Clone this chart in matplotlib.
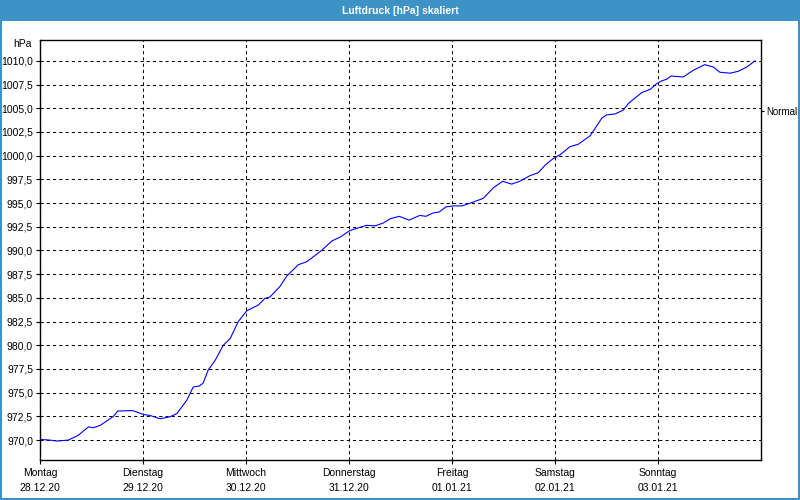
import matplotlib
matplotlib.use('Agg')
import matplotlib.pyplot as plt
from matplotlib.patches import Rectangle

# Luftdruck over one week, hours since Monday 00:00
hours = [0, 2.3, 3.9, 6.6, 8.9, 11.3, 12.4, 14.0, 15.5, 17.1, 18.1, 20.2, 21.7,
         24.1, 25.6, 28.0, 30.3, 31.9, 34.2, 35.7, 37.1, 38.0, 39.2, 40.8, 42.7,
         44.3, 46.2, 48.2, 50.9, 52.4, 53.6, 55.9, 57.5, 60.2, 62.1, 63.3, 65.6,
         68.0, 69.9, 72.2, 74.6, 76.1, 78.1, 80.0, 81.6, 83.7, 86.0, 88.5, 89.9,
         91.6, 93.0, 94.6, 96.3, 98.3, 100.9, 103.3, 105.6, 107.8, 109.9, 111.8,
         114.2, 116.1, 117.7, 119.6, 121.2, 123.5, 125.4, 128.2, 130.9, 132.0,
         134.0, 135.9, 137.1, 140.2, 142.2, 143.7, 144.9, 146.0, 147.0, 149.9,
         152.2, 154.9, 156.9, 158.4, 160.8, 162.7, 164.7, 166.6]
pressure = [970.07, 970.0, 969.9, 970.0, 970.5, 971.4, 971.3, 971.55, 972.0, 972.5,
            973.06, 973.1, 973.1, 972.7, 972.6, 972.25, 972.46, 972.8, 974.2,
            975.6, 975.7, 976.0, 977.4, 978.4, 980.0, 980.7, 982.5, 983.65, 984.25,
            984.95, 985.1, 986.2, 987.3, 988.5, 988.8, 989.2, 990.0, 991.0, 991.4,
            992.1, 992.45, 992.65, 992.6, 992.9, 993.35, 993.6, 993.2, 993.7, 993.6,
            993.96, 994.06, 994.6, 994.7, 994.7, 995.1, 995.5, 996.6, 997.3, 997.0,
            997.3, 997.9, 998.2, 999.0, 999.7, 1000.1, 1000.95, 1001.2, 1002.1,
            1003.95, 1004.3, 1004.4, 1004.8, 1005.5, 1006.65, 1007.0, 1007.6,
            1007.9, 1008.05, 1008.4, 1008.3, 1009.0, 1009.6, 1009.35, 1008.8,
            1008.7, 1008.9, 1009.35, 1010.0]

day_names = ['Montag', 'Dienstag', 'Mittwoch', 'Donnerstag', 'Freitag', 'Samstag', 'Sonntag']
day_dates = ['28.12.20', '29.12.20', '30.12.20', '31.12.20', '01.01.21', '02.01.21', '03.01.21']
y_ticks = [970 + 2.5 * i for i in range(17)]
normal_value = 1004.7

plt.rcParams['font.family'] = ['Liberation Sans', 'DejaVu Sans']
plt.rcParams['font.size'] = 7.5

fig = plt.figure(figsize=(8, 5), dpi=100)
fig.patch.set_facecolor('white')

# title bar and window border
blue = '#3d93c6'
fig.patches.append(Rectangle((0, 0.959), 1, 0.041, transform=fig.transFigure,
                             facecolor=blue, edgecolor='none', zorder=0))
fig.patches.append(Rectangle((0.001, 0.002), 0.998, 0.997, transform=fig.transFigure,
                             facecolor='none', edgecolor=blue, lw=1.5, zorder=1))
fig.text(0.5, 0.979, 'Luftdruck [hPa] skaliert', color='white', fontweight='bold',
         ha='center', va='center', fontsize=7.5)

ax = fig.add_axes([0.05, 0.08, 0.90125, 0.84])
ax.plot(hours, pressure, color='#0000ff', lw=0.8)

ax.set_xlim(0, 168)
ax.set_ylim(967.9, 1012.2)

ax.set_xticks([24 * i for i in range(7)])
ax.set_xticklabels([f'{n}\n{d}' for n, d in zip(day_names, day_dates)], linespacing=1.6)
ax.set_yticks(y_ticks)
ax.set_yticklabels([f'{v:.1f}'.replace('.', ',') for v in y_ticks])
ax.tick_params(axis='both', direction='out', length=3, width=0.8, colors='black', pad=2)
ax.tick_params(axis='x', pad=3)

ax.grid(True, color='black', lw=0.75, linestyle=(0, (3, 3)))
for s in ax.spines.values():
    s.set_linewidth(1.0)

# right side marker
sec = ax.secondary_yaxis('right')
sec.set_yticks([normal_value])
sec.set_yticklabels(['Normal'], fontsize=7)
sec.tick_params(direction='out', length=2.5, width=0.8, pad=1)
sec.spines['right'].set_visible(False)

ax.text(-0.012, 0.99, 'hPa', transform=ax.transAxes, ha='right', va='center')

fig.savefig('out.png', dpi=100)
